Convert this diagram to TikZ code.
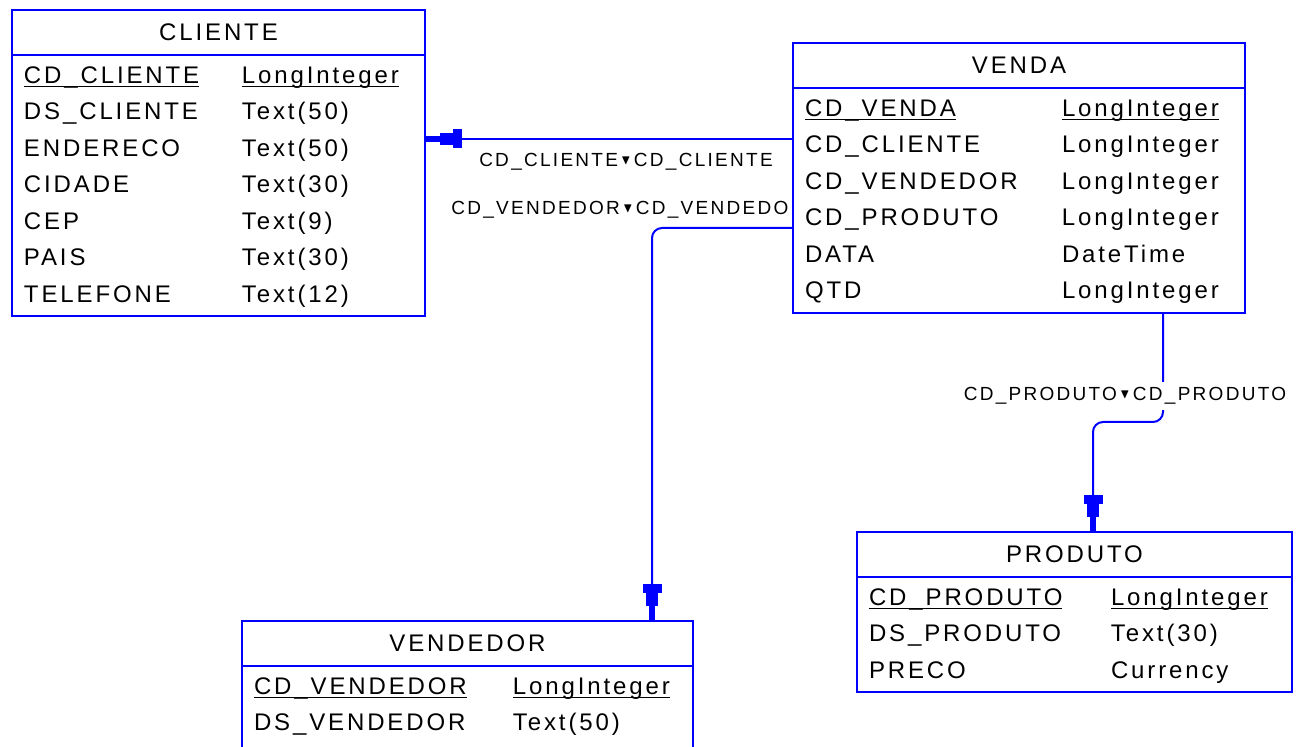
\documentclass[tikz,border=0pt]{standalone}
\usepackage{amssymb}
\usepackage{fontspec}
\setmainfont{Liberation Sans}[LetterSpace=12]
\usepackage{tikz}
\usetikzlibrary{arrows.meta, positioning, backgrounds}
\tikzset{
    titlenode/.style = {draw=blue, fill=white, rectangle, line width=1pt, inner sep=0em,
      outer sep=0em, font=\tabfont},
    bodynode/.style = {draw=blue, fill=white, rectangle, line width=1pt, inner xsep=6pt,
      inner ysep=1.4pt, outer sep=0em, align=left, font=\tabfont},
    keynode/.style = {draw=none, fill=white, rectangle, inner xsep=0.1em, inner ysep=2.5pt,
      font=\keyfont},
    connect/.style = {draw=blue, line width=1pt, rounded corners=5pt,
      -{Rectangle[length=4.5pt,width=9.5pt,sep=0pt] Rectangle[length=6.5pt,width=6pt,sep=0pt]
        Rectangle[length=7.5pt,width=3pt,sep=0pt]}}
}
\newcommand{\tabfont}{\fontsize{12}{18.25}\selectfont}
\newcommand{\keyfont}{\fontsize{9.5}{11}\selectfont}
\newcommand{\pk}[1]{\underline{\smash{#1}}}
\newcommand{\fkmark}{\,\raisebox{0.25ex}{\scalebox{0.7}{$\blacktriangledown$}}\,}

\begin{document}
\begin{tikzpicture}[x=0.5pt, y=-0.5pt]
    \useasboundingbox (0,0) rectangle (1298,747);
    \clip (0,0) rectangle (1298,747);

    % tables
    \node [name=cliente, titlenode, minimum width=206.5pt, minimum height=22.5pt,
        anchor=north west] at (12,10) {CLIENTE};
    \node [name=clientebody, bodynode, text width=194.5pt, below=0pt of cliente] {%
        \begin{tabular}{@{}p{109pt}@{}l@{}}
        \pk{CD\_CLIENTE} & \pk{LongInteger}\\
        DS\_CLIENTE & Text(50)\\
        ENDERECO & Text(50)\\
        CIDADE & Text(30)\\
        CEP & Text(9)\\
        PAIS & Text(30)\\
        TELEFONE & Text(12)
        \end{tabular}};

    \node [name=venda, titlenode, minimum width=226pt, minimum height=22.5pt,
        anchor=north west] at (793,43) {VENDA};
    \node [name=vendabody, bodynode, text width=214pt, below=0pt of venda] {%
        \begin{tabular}{@{}p{128.5pt}@{}l@{}}
        \pk{CD\_VENDA} & \pk{LongInteger}\\
        CD\_CLIENTE & LongInteger\\
        CD\_VENDEDOR & LongInteger\\
        CD\_PRODUTO & LongInteger\\
        DATA & DateTime\\
        QTD & LongInteger
        \end{tabular}};

    \node [name=produto, titlenode, minimum width=217.5pt, minimum height=22.5pt,
        anchor=north west] at (857,532) {PRODUTO};
    \node [name=produtobody, bodynode, text width=205.5pt, below=0pt of produto] {%
        \begin{tabular}{@{}p{121pt}@{}l@{}}
        \pk{CD\_PRODUTO} & \pk{LongInteger}\\
        DS\_PRODUTO & Text(30)\\
        PRECO & Currency
        \end{tabular}};

    \node [name=vendedor, titlenode, minimum width=225.5pt, minimum height=22.5pt,
        anchor=north west] at (242,621) {VENDEDOR};
    \node [name=vendedorbody, bodynode, text width=213.5pt, below=0pt of vendedor] {%
        \begin{tabular}{@{}p{129.5pt}@{}l@{}}
        \pk{CD\_VENDEDOR} & \pk{LongInteger}\\
        DS\_VENDEDOR & Text(50)\\[8pt]
        \end{tabular}};

    % relations, behind the tables
    \begin{scope}[on background layer]
    \fill [white] (0,0) rectangle (1298,747);
    \coordinate (kcli) at (600,139);
    \coordinate (kven) at (652,228);
    \coordinate (kpro) at (1163,422);
    \coordinate (kpro2) at (1093,422);
    \draw [connect] (vendabody.west |- kcli) -- (clientebody.east |- kcli);
    \draw [connect] (vendabody.west |- kven) -| (vendedor.north -| kven);
    \draw [connect] (vendabody.south -| kpro) -- (kpro) -- (kpro2) -- (produto.north -| kpro2);
    \node [name=lcli, keynode] at (626,162) {CD\_CLIENTE\fkmark CD\_CLIENTE};
    \node [name=lven, keynode, anchor=west] at (449,210) {CD\_VENDEDOR\fkmark CD\_VENDEDO};
    \node [name=lpro, keynode] at (1125,396) {CD\_PRODUTO\fkmark CD\_PRODUTO};
    \end{scope}
\end{tikzpicture}
\end{document}
